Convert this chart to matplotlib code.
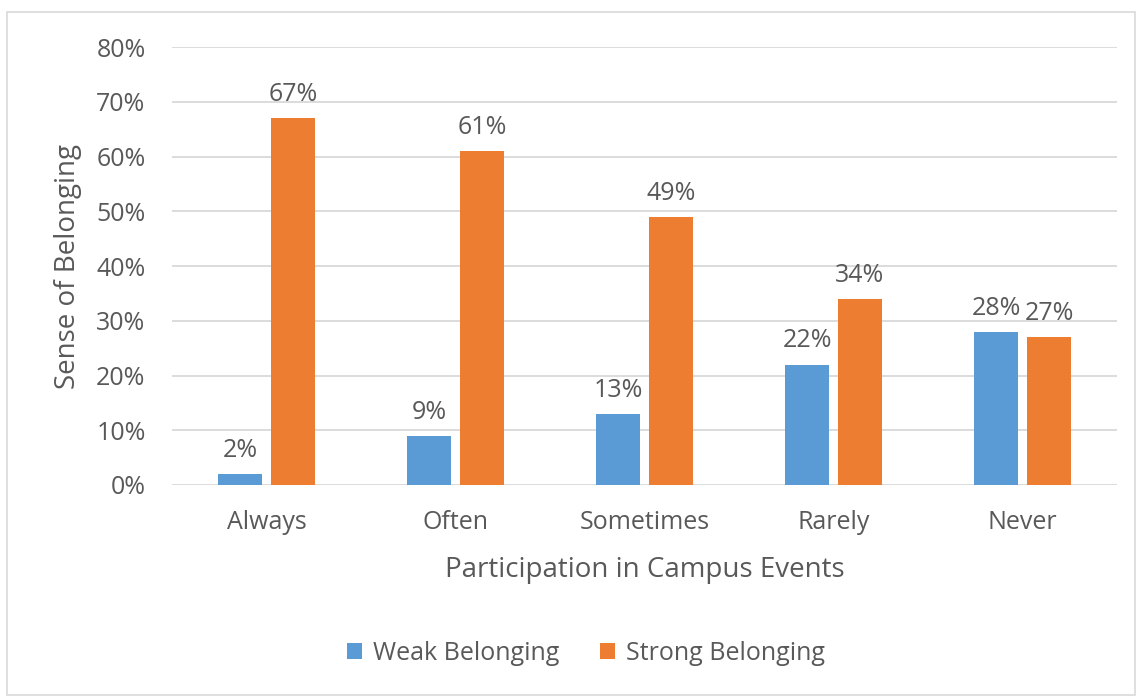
import matplotlib
matplotlib.use("Agg")
import matplotlib.pyplot as plt
from matplotlib.patches import Rectangle
import numpy as np

categories = ["Always", "Often", "Sometimes", "Rarely", "Never"]
weak = [2, 9, 13, 22, 28]
strong = [67, 61, 49, 34, 27]
series_names = ["Weak Belonging", "Strong Belonging"]
yticks = [0, 10, 20, 30, 40, 50, 60, 70, 80]

BLUE = "#5B9BD5"
ORANGE = "#ED7D31"
TEXT = "#595959"
GRID = "#D9D9D9"

plt.rcParams["font.family"] = ["Open Sans", "DejaVu Sans"]

fig = plt.figure(figsize=(11.4, 6.98), dpi=100)
fig.patches.append(Rectangle((7 / 1140, 3 / 698), 1128 / 1140, 683 / 698,
                             transform=fig.transFigure, fill=False,
                             edgecolor="#D9D9D9", linewidth=1.2))

ax = fig.add_axes([172 / 1140, 1 - 485 / 698, 945 / 1140, 438 / 698])
x = np.arange(len(categories))
w = 0.232
off = 0.14
b1 = ax.bar(x - off, weak, w, color=BLUE, zorder=3)
b2 = ax.bar(x + off, strong, w, color=ORANGE, zorder=3)

for bars, vals in ((b1, weak), (b2, strong)):
    for r, v in zip(bars, vals):
        ax.annotate(f"{v}%", (r.get_x() + r.get_width() / 2, v),
                    xytext=(0, 8), textcoords="offset points",
                    ha="center", va="bottom", fontsize=18, color=TEXT)

ax.set_xlim(-0.5, len(categories) - 0.5)
ax.set_ylim(0, 80)
ax.set_yticks(yticks)
ax.set_yticklabels([f"{t}%" for t in yticks])
ax.set_xticks(x)
ax.set_xticklabels(categories)
ax.tick_params(axis="both", length=0, labelsize=18, labelcolor=TEXT)
ax.tick_params(axis="y", pad=19)
ax.tick_params(axis="x", pad=18)
ax.yaxis.grid(True, color=GRID, linewidth=1.3, zorder=0)
ax.set_axisbelow(True)
for s in ax.spines.values():
    s.set_visible(False)

ax.set_xlabel("Participation in Campus Events", fontsize=20, color=TEXT, labelpad=15)
ax.set_ylabel("Sense of Belonging", fontsize=20, color=TEXT, labelpad=10)

leg = fig.legend([b1, b2], series_names, loc="center", ncol=2,
                 bbox_to_anchor=(586 / 1140, 1 - 653 / 698), frameon=False,
                 fontsize=18, handlelength=0.6, handleheight=0.6,
                 columnspacing=1.6, handletextpad=0.45)
for t in leg.get_texts():
    t.set_color(TEXT)

fig.savefig("out.png", dpi=100)
